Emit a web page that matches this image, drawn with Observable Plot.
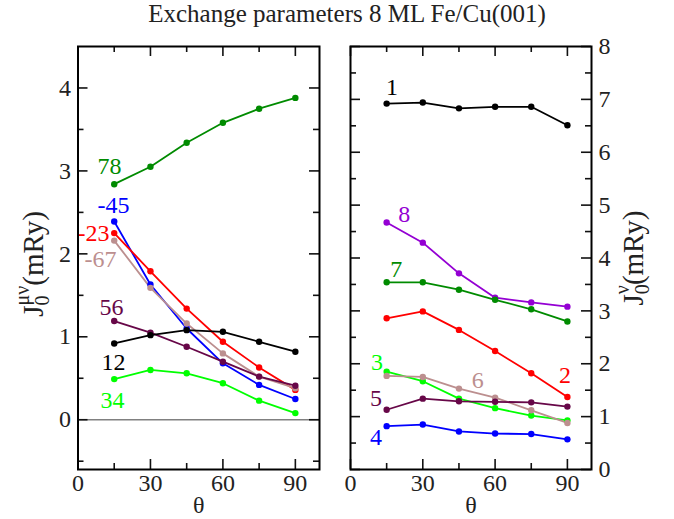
<!DOCTYPE html>
<html><head><meta charset="utf-8">
<script src="https://cdn.jsdelivr.net/npm/d3@7"></script>
<script src="https://cdn.jsdelivr.net/npm/@observablehq/plot@0.6"></script>
<style>
html,body{margin:0;padding:0;background:#fff;}
#wrap{position:relative;width:674px;height:519px;font-family:"Liberation Serif","Times New Roman",serif;}
#title{position:absolute;top:0px;left:10px;width:674px;text-align:center;font-size:25px;color:#222;white-space:nowrap;}
#left,#right{position:absolute;top:0;}
#left{left:0}#right{left:337px}
#wrap svg, #wrap svg text{font-family:"Liberation Serif","Times New Roman",serif;}
</style></head><body>
<div id="wrap"><div id="left"></div><div id="right"></div><div id="title">Exchange parameters 8 ML Fe/Cu(001)</div></div>
<script>
// angles theta (degrees)
const theta = [15, 30, 45, 60, 75, 90];

// left panel: J_0^{mu nu} (mRy)
const leftNames = ["78", "-45", "-23", "-67", "56", "12", "34"];
const leftColors = ["#008b00", "#0000ff", "#ff0000", "#bc8f8f", "#670748", "#000000", "#00ff00"];
const j78  = [2.84, 3.05, 3.34, 3.58, 3.75, 3.88];
const jm45 = [2.39, 1.63, 1.10, 0.68, 0.42, 0.25];
const jm23 = [2.25, 1.79, 1.34, 0.94, 0.63, 0.36];
const jm67 = [2.16, 1.59, 1.16, 0.80, 0.52, 0.38];
const j56  = [1.19, 1.05, 0.88, 0.70, 0.52, 0.41];
const j12  = [0.92, 1.02, 1.08, 1.06, 0.94, 0.82];
const j34  = [0.49, 0.60, 0.56, 0.44, 0.23, 0.08];
const leftValues = [j78, jm45, jm23, jm67, j56, j12, j34];
// label anchors (data coordinates)
const leftLabelX = [13, 14.7, 6.4, 9.3, 13.9, 14.7, 14.3];
const leftLabelY = [3.05, 2.59, 2.25, 1.94, 1.36, 0.69, 0.24];

// right panel: J_0^{nu} (mRy)
const rightNames = ["1", "8", "7", "2", "3", "6", "5", "4"];
const rightColors = ["#000000", "#9400d3", "#008b00", "#ff0000", "#00ff00", "#bc8f8f", "#670748", "#0000ff"];
const v1 = [6.92, 6.94, 6.83, 6.86, 6.86, 6.51];
const v8 = [4.67, 4.29, 3.71, 3.25, 3.16, 3.08];
const v7 = [3.54, 3.54, 3.40, 3.21, 3.03, 2.80];
const v2 = [2.86, 2.99, 2.64, 2.24, 1.82, 1.37];
const v3 = [1.85, 1.67, 1.34, 1.16, 1.02, 0.93];
const v6 = [1.77, 1.75, 1.53, 1.36, 1.12, 0.88];
const v5 = [1.13, 1.34, 1.29, 1.28, 1.27, 1.19];
const v4 = [0.82, 0.85, 0.72, 0.68, 0.67, 0.57];
const rightValues = [v1, v8, v7, v2, v3, v6, v5, v4];
const rightLabelX = [17.2, 22.3, 19, 89, 11, 52.8, 10.6, 10.6];
const rightLabelY = [7.23, 4.82, 3.78, 1.78, 2.03, 1.68, 1.34, 0.61];

// ticks
const xMajor = [0, 30, 60, 90];
const xMinor = [15, 45, 75];
const leftYMajor = [0, 1, 2, 3, 4];
const leftYMinor = [-0.5, 0.5, 1.5, 2.5, 3.5];
const rightYMajor = [0, 1, 2, 3, 4, 5, 6, 7, 8];
const rightYMinor = [0.5, 1.5, 2.5, 3.5, 4.5, 5.5, 6.5, 7.5];

const FS = 24;
const INK = "#222";
const FONT = "Liberation Serif, Times New Roman, serif";
const W = 337, H = 519, MT = 46, MB = 50;

function rowsOf(names, values) {
  return names.flatMap((n, k) => theta.map((t, i) => ({theta: t, J: values[k][i], name: n})));
}
function labelsOf(names, lx, ly) {
  return names.map((n, k) => ({name: n, x: lx[k], y: ly[k]}));
}
const fmt = d => String(d);

function panel({names, colors, values, lx, ly, yDomain, yMajor, yMinor, labelSide, marginLeft, marginRight, zeroLine}) {
  const rows = rowsOf(names, values);
  const labels = labelsOf(names, lx, ly);
  const iw = W - marginLeft - marginRight;
  const ih = H - MT - MB;
  const tk = {stroke: "#111", strokeWidth: 1.6};
  return Plot.plot({
    width: W, height: H,
    marginLeft, marginRight, marginTop: MT, marginBottom: MB,
    x: {domain: [0, 100]},
    y: {domain: yDomain},
    color: {domain: names, range: colors},
    style: {fontFamily: FONT, fontSize: FS + "px", color: INK, background: "transparent", overflow: "visible"},
    marks: [
      zeroLine ? Plot.ruleY([0], {stroke: "#808080", strokeWidth: 1.6}) : null,
      // inward ticks on all four sides
      Plot.ruleX(xMajor, {...tk, insetTop: ih - 10}),
      Plot.ruleX(xMajor, {...tk, insetBottom: ih - 10}),
      Plot.ruleX(xMinor, {...tk, insetTop: ih - 6}),
      Plot.ruleX(xMinor, {...tk, insetBottom: ih - 6}),
      Plot.ruleY(yMajor, {...tk, insetRight: iw - 10}),
      Plot.ruleY(yMajor, {...tk, insetLeft: iw - 10}),
      Plot.ruleY(yMinor, {...tk, insetRight: iw - 6}),
      Plot.ruleY(yMinor, {...tk, insetLeft: iw - 6}),
      Plot.line(rows, {x: "theta", y: "J", z: "name", stroke: "name", strokeWidth: 1.8}),
      Plot.dot(rows, {x: "theta", y: "J", fill: "name", r: 3.2}),
      Plot.text(labels, {x: "x", y: "y", text: "name", fill: "name", fontSize: FS, fontFamily: FONT}),
      Plot.frame({stroke: "#000", strokeWidth: 2}),
      Plot.axisX(xMajor, {anchor: "bottom", tickSize: 0, tickPadding: 4, fontSize: FS, fontFamily: FONT, tickFormat: fmt, label: null}),
      Plot.axisY(yMajor, {anchor: labelSide, tickSize: 0, tickPadding: 7, fontSize: FS, fontFamily: FONT, tickFormat: fmt, label: null}),
      Plot.text(["θ"], {text: d => d, frameAnchor: "bottom", dy: 43, fontSize: FS, fontFamily: FONT, fill: INK})
    ]
  });
}

function yLabel(svg, cx, cy, sup) {
  const t = d3.select(svg).append("text")
    .attr("transform", `translate(${cx},${cy}) rotate(-90)`)
    .attr("text-anchor", "middle")
    .attr("font-family", FONT)
    .attr("font-size", 29)
    .attr("fill", INK);
  t.append("tspan").text("J");
  t.append("tspan").attr("font-size", 20).attr("dy", 6).text("0");
  t.append("tspan").attr("font-size", 20).attr("dx", -10).attr("dy", -20).text(sup);
  t.append("tspan").attr("font-size", 29).attr("dy", 14).text("(mRy)");
}

const left = panel({
  names: leftNames, colors: leftColors, values: leftValues, lx: leftLabelX, ly: leftLabelY,
  yDomain: [-0.6, 4.5], yMajor: leftYMajor, yMinor: leftYMinor, labelSide: "left",
  marginLeft: 77.5, marginRight: 18, zeroLine: true
});
const right = panel({
  names: rightNames, colors: rightColors, values: rightValues, lx: rightLabelX, ly: rightLabelY,
  yDomain: [0, 8], yMajor: rightYMajor, yMinor: rightYMinor, labelSide: "right",
  marginLeft: 13, marginRight: 83, zeroLine: false
});
yLabel(left, 43, 264, "μν");
yLabel(right, 306, 258, "ν");
document.getElementById("left").appendChild(left);
document.getElementById("right").appendChild(right);
</script>
</body></html>
